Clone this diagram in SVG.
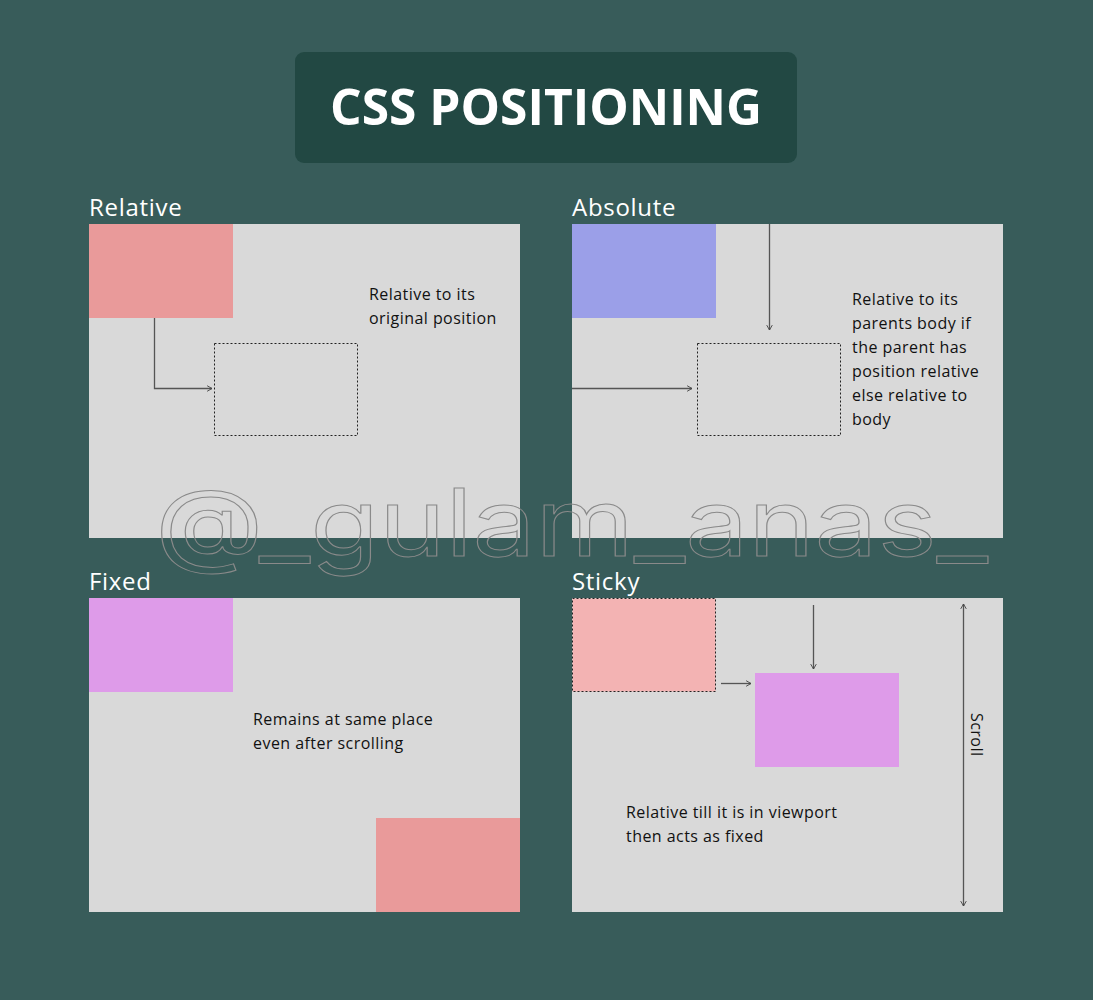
<svg xmlns="http://www.w3.org/2000/svg" width="1093" height="1000" viewBox="0 0 1093 1000">
<style>
.panel{fill:#d9d9d9}
.lbl{font-family:"Open Sans","Liberation Sans",sans-serif;font-size:24px;font-weight:500;fill:#ffffff;letter-spacing:0.7px}
.txt{font-family:"Open Sans","Liberation Sans",sans-serif;font-size:16px;font-weight:500;fill:#111111;letter-spacing:0.45px}
.dash{fill:none;stroke:#222;stroke-width:1;stroke-dasharray:2 2}
.ln{fill:none;stroke:#555;stroke-width:1.3}
</style>
<defs>
<marker id="arr" viewBox="0 0 10 10" refX="9" refY="5" markerWidth="7" markerHeight="7" orient="auto-start-reverse" markerUnits="userSpaceOnUse">
<path d="M2,1 L9,5 L2,9" fill="none" stroke="#444" stroke-width="1.3"/>
</marker>
</defs>
<rect width="1093" height="1000" fill="#385c5a"/>
<g id="title">
<rect x="295" y="52" width="502" height="111" rx="9" fill="#224843"/>
<text x="546" y="125" text-anchor="middle" font-family="'Open Sans','Liberation Sans',sans-serif" font-size="51" font-weight="700" fill="#ffffff" textLength="432" lengthAdjust="spacingAndGlyphs">CSS POSITIONING</text>
</g>
<g id="relative">
<text class="lbl" x="89" y="216">Relative</text>
<rect class="panel" x="89" y="224" width="431" height="314"/>
<rect x="89" y="224" width="144" height="94" fill="#e99a9a"/>
<rect class="dash" x="214.5" y="343.5" width="143" height="92"/>
<text class="txt" x="369" y="300">Relative to its</text>
<text class="txt" x="369" y="324">original position</text>
</g>
<g id="absolute">
<text class="lbl" x="572" y="216">Absolute</text>
<rect class="panel" x="572" y="224" width="431" height="314"/>
<rect x="572" y="224" width="144" height="94" fill="#9b9fe8"/>
<rect class="dash" x="697.5" y="343.5" width="143" height="92"/>
<text class="txt" x="852" y="305">Relative to its</text>
<text class="txt" x="852" y="329">parents body if</text>
<text class="txt" x="852" y="353">the parent has</text>
<text class="txt" x="852" y="377">position relative</text>
<text class="txt" x="852" y="401">else relative to</text>
<text class="txt" x="852" y="425">body</text>
</g>
<g id="fixed">
<text class="lbl" x="89" y="590">Fixed</text>
<rect class="panel" x="89" y="598" width="431" height="314"/>
<rect x="89" y="598" width="144" height="94" fill="#de9be9"/>
<rect x="376" y="818" width="144" height="94" fill="#e99a9a"/>
<text class="txt" x="253" y="725">Remains at same place</text>
<text class="txt" x="253" y="749">even after scrolling</text>
</g>
<g id="sticky">
<text class="lbl" x="572" y="590">Sticky</text>
<rect class="panel" x="572" y="598" width="431" height="314"/>
<rect x="572.5" y="598.5" width="143" height="93" fill="#f3b3b3" stroke="#222" stroke-width="1" stroke-dasharray="2 2"/>
<rect x="755" y="673" width="144" height="94" fill="#de9be9"/>
<text class="txt" x="626" y="818">Relative till it is in viewport</text>
<text class="txt" x="626" y="842">then acts as fixed</text>
<text class="txt" x="0" y="0" font-size="19" transform="translate(971,713) rotate(90)">Scroll</text>
</g>
<g id="connectors">
<path class="ln" d="M154.5,318 V388.5 H212" marker-end="url(#arr)"/>
<path class="ln" d="M769.5,224 V330" marker-end="url(#arr)"/>
<path class="ln" d="M572,388.5 H692" marker-end="url(#arr)"/>
<path class="ln" d="M721,683.5 H751" marker-end="url(#arr)"/>
<path class="ln" d="M813.5,605 V669" marker-end="url(#arr)"/>
<path class="ln" d="M963.5,604 V906" marker-start="url(#arr)" marker-end="url(#arr)"/>
</g>
<g id="watermark">
<text x="155" y="556" font-family="Inter,'Open Sans',sans-serif" font-size="93" font-weight="400" fill="none" stroke="#8a8a8a" stroke-width="1" textLength="833" lengthAdjust="spacingAndGlyphs">@_gulam_anas_</text>
</g>
</svg>
